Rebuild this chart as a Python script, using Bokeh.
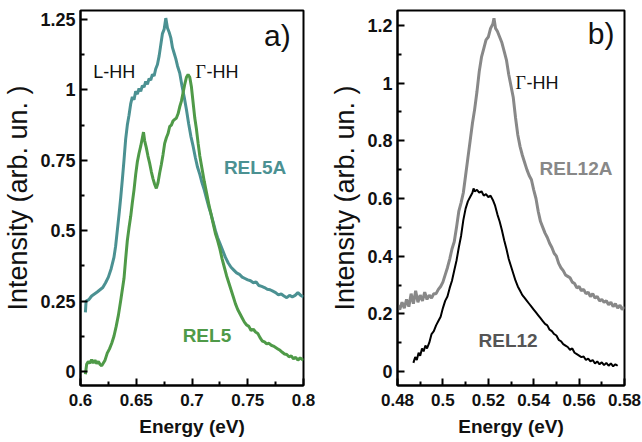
from bokeh.plotting import figure
from bokeh.layouts import row
from bokeh.models import FixedTicker, Range1d
from bokeh.core.properties import value
from bokeh.embed import file_html
from bokeh.resources import INLINE

# ---------------- data: panel a ----------------
rel5a_e = [0.6044, 0.6050, 0.6075, 0.6100, 0.6125, 0.6150, 0.6175, 0.6200, 0.6225, 0.6250,
           0.6275, 0.6300, 0.6315, 0.6330, 0.6345, 0.6360, 0.6375, 0.6390, 0.6405, 0.6420,
           0.6435, 0.6450, 0.6465, 0.6480, 0.6495, 0.6510, 0.6525, 0.6540, 0.6555, 0.6570,
           0.6585, 0.6600, 0.6615, 0.6630, 0.6645, 0.6660, 0.6675, 0.6690, 0.6705, 0.6720,
           0.6735, 0.6750, 0.6765, 0.6780, 0.6795, 0.6810, 0.6825, 0.6840, 0.6855, 0.6870,
           0.6890, 0.6910, 0.6930, 0.6950, 0.6970, 0.6990, 0.7010, 0.7030, 0.7050, 0.7070,
           0.7090, 0.7110, 0.7130, 0.7150, 0.7170, 0.7190, 0.7210, 0.7230, 0.7250, 0.7275,
           0.7300, 0.7325, 0.7350, 0.7375, 0.7400, 0.7425, 0.7450, 0.7475, 0.7500, 0.7525,
           0.7550, 0.7575, 0.7600, 0.7625, 0.7650, 0.7675, 0.7700, 0.7725, 0.7750, 0.7775,
           0.7800, 0.7825, 0.7850, 0.7875, 0.7900, 0.7925, 0.7950, 0.7975, 0.8000]
rel5a_i = [0.210, 0.250, 0.255, 0.268, 0.275, 0.282, 0.290, 0.298, 0.315, 0.335,
           0.365, 0.405, 0.445, 0.500, 0.555, 0.615, 0.680, 0.750, 0.825, 0.875,
           0.910, 0.950, 0.975, 0.965, 0.995, 0.985, 1.005, 0.995, 1.015, 1.010,
           1.030, 1.020, 1.040, 1.035, 1.055, 1.050, 1.075, 1.090, 1.120, 1.160,
           1.200, 1.215, 1.255, 1.220, 1.205, 1.185, 1.150, 1.130, 1.110, 1.085,
           1.060, 1.015, 0.975, 0.930, 0.880, 0.835, 0.800, 0.760, 0.725, 0.700,
           0.670, 0.645, 0.615, 0.585, 0.560, 0.530, 0.500, 0.475, 0.455, 0.430,
           0.405, 0.385, 0.370, 0.360, 0.350, 0.345, 0.335, 0.330, 0.325, 0.322,
           0.315, 0.318, 0.305, 0.302, 0.298, 0.292, 0.290, 0.285, 0.280, 0.272,
           0.275, 0.268, 0.262, 0.270, 0.265, 0.270, 0.280, 0.270, 0.265]

rel5_e = [0.6044, 0.6055, 0.6070, 0.6085, 0.6100, 0.6115, 0.6130, 0.6145, 0.6160, 0.6175,
          0.6190, 0.6205, 0.6220, 0.6240, 0.6260, 0.6280, 0.6300, 0.6320, 0.6340, 0.6360,
          0.6375, 0.6390, 0.6405, 0.6420, 0.6435, 0.6450, 0.6465, 0.6480, 0.6495, 0.6510,
          0.6525, 0.6540, 0.6555, 0.6565, 0.6575, 0.6590, 0.6605, 0.6620, 0.6635, 0.6650,
          0.6665, 0.6680, 0.6695, 0.6710, 0.6725, 0.6740, 0.6755, 0.6770, 0.6785, 0.6800,
          0.6815, 0.6830, 0.6845, 0.6860, 0.6875, 0.6890, 0.6905, 0.6920, 0.6935, 0.6950,
          0.6965, 0.6980, 0.6995, 0.7010, 0.7025, 0.7040, 0.7055, 0.7070, 0.7090, 0.7110,
          0.7130, 0.7150, 0.7170, 0.7190, 0.7210, 0.7230, 0.7250, 0.7270, 0.7290, 0.7310,
          0.7330, 0.7350, 0.7370, 0.7390, 0.7410, 0.7430, 0.7450, 0.7470, 0.7490, 0.7510,
          0.7530, 0.7550, 0.7570, 0.7590, 0.7610, 0.7630, 0.7650, 0.7670, 0.7690, 0.7710,
          0.7730, 0.7750, 0.7770, 0.7790, 0.7810, 0.7830, 0.7850, 0.7870, 0.7890, 0.7910,
          0.7930, 0.7950, 0.7970, 0.8000]
rel5_i = [-0.010, 0.025, 0.035, 0.030, 0.042, 0.030, 0.040, 0.028, 0.035, 0.025,
          0.020, 0.030, 0.040, 0.065, 0.080, 0.100, 0.125, 0.160, 0.200, 0.250,
          0.290, 0.330, 0.400, 0.465, 0.510, 0.550, 0.600, 0.645, 0.700, 0.745,
          0.775, 0.800, 0.830, 0.850, 0.820, 0.795, 0.765, 0.740, 0.710, 0.685,
          0.665, 0.650, 0.670, 0.705, 0.735, 0.770, 0.810, 0.830, 0.845, 0.870,
          0.875, 0.890, 0.895, 0.900, 0.915, 0.940, 0.960, 0.990, 1.020, 1.045,
          1.055, 1.045, 1.010, 0.955, 0.900, 0.860, 0.810, 0.765, 0.720, 0.675,
          0.635, 0.595, 0.560, 0.525, 0.490, 0.465, 0.435, 0.400, 0.370, 0.340,
          0.315, 0.290, 0.265, 0.240, 0.220, 0.205, 0.190, 0.175, 0.165, 0.160,
          0.145, 0.150, 0.140, 0.135, 0.120, 0.108, 0.105, 0.098, 0.100, 0.093,
          0.090, 0.085, 0.080, 0.075, 0.068, 0.062, 0.060, 0.052, 0.055, 0.045,
          0.050, 0.040, 0.048, 0.040]

# ---------------- data: panel b ----------------
rel12a_e = [0.4800, 0.4810, 0.4820, 0.4830, 0.4840, 0.4850, 0.4860, 0.4870, 0.4880, 0.4890,
            0.4900, 0.4910, 0.4920, 0.4930, 0.4940, 0.4950, 0.4960, 0.4970, 0.4980, 0.4990,
            0.5000, 0.5010, 0.5020, 0.5030, 0.5040, 0.5050, 0.5060, 0.5070, 0.5080, 0.5090,
            0.5100, 0.5110, 0.5120, 0.5130, 0.5140, 0.5150, 0.5160, 0.5170, 0.5180, 0.5190,
            0.5200, 0.5210, 0.5220, 0.5225, 0.5232, 0.5240, 0.5250, 0.5260, 0.5270, 0.5280,
            0.5290, 0.5300, 0.5310, 0.5320, 0.5330, 0.5340, 0.5350, 0.5360, 0.5370, 0.5380,
            0.5390, 0.5400, 0.5410, 0.5420, 0.5430, 0.5440, 0.5450, 0.5460, 0.5470, 0.5480,
            0.5490, 0.5500, 0.5510, 0.5520, 0.5530, 0.5540, 0.5550, 0.5560, 0.5570, 0.5580,
            0.5590, 0.5600, 0.5610, 0.5620, 0.5630, 0.5640, 0.5650, 0.5660, 0.5670, 0.5680,
            0.5690, 0.5700, 0.5710, 0.5720, 0.5730, 0.5740, 0.5750, 0.5760, 0.5770, 0.5780,
            0.5790, 0.5800]
rel12a_i = [0.230, 0.215, 0.240, 0.220, 0.250, 0.225, 0.270, 0.235, 0.280, 0.240,
            0.265, 0.245, 0.275, 0.250, 0.265, 0.255, 0.270, 0.270, 0.285, 0.295,
            0.310, 0.335, 0.360, 0.390, 0.425, 0.450, 0.500, 0.555, 0.585, 0.620,
            0.680, 0.740, 0.800, 0.860, 0.910, 0.970, 1.040, 1.090, 1.120, 1.150,
            1.160, 1.190, 1.205, 1.225, 1.190, 1.180, 1.160, 1.140, 1.110, 1.080,
            1.030, 0.990, 0.950, 0.880, 0.820, 0.780, 0.750, 0.725, 0.700, 0.680,
            0.665, 0.630, 0.600, 0.555, 0.520, 0.500, 0.480, 0.465, 0.445, 0.430,
            0.410, 0.400, 0.375, 0.360, 0.350, 0.335, 0.330, 0.325, 0.310, 0.305,
            0.290, 0.295, 0.280, 0.285, 0.270, 0.275, 0.260, 0.270, 0.255, 0.260,
            0.245, 0.250, 0.240, 0.245, 0.232, 0.240, 0.225, 0.235, 0.220, 0.230,
            0.215, 0.225]

rel12_e = [0.4870, 0.4878, 0.4885, 0.4893, 0.4900, 0.4908, 0.4915, 0.4923, 0.4930, 0.4940,
           0.4950, 0.4960, 0.4970, 0.4980, 0.4990, 0.5000, 0.5010, 0.5020, 0.5030, 0.5040,
           0.5050, 0.5060, 0.5070, 0.5080, 0.5090, 0.5100, 0.5110, 0.5120, 0.5130, 0.5135,
           0.5140, 0.5150, 0.5160, 0.5170, 0.5180, 0.5190, 0.5200, 0.5210, 0.5220, 0.5230,
           0.5240, 0.5250, 0.5260, 0.5270, 0.5280, 0.5290, 0.5300, 0.5310, 0.5320, 0.5330,
           0.5340, 0.5350, 0.5360, 0.5370, 0.5380, 0.5390, 0.5400, 0.5410, 0.5420, 0.5430,
           0.5440, 0.5450, 0.5460, 0.5470, 0.5480, 0.5490, 0.5500, 0.5510, 0.5520, 0.5530,
           0.5540, 0.5550, 0.5560, 0.5570, 0.5580, 0.5590, 0.5600, 0.5610, 0.5620, 0.5630,
           0.5640, 0.5650, 0.5660, 0.5670, 0.5680, 0.5690, 0.5700, 0.5710, 0.5720, 0.5730,
           0.5740, 0.5750, 0.5760, 0.5770]
rel12_i = [0.030, 0.050, 0.040, 0.065, 0.055, 0.080, 0.070, 0.090, 0.080, 0.100,
           0.130, 0.140, 0.160, 0.175, 0.190, 0.220, 0.245, 0.260, 0.290, 0.315,
           0.350, 0.385, 0.430, 0.470, 0.525, 0.565, 0.590, 0.605, 0.620, 0.635,
           0.625, 0.630, 0.620, 0.625, 0.610, 0.615, 0.605, 0.610, 0.595, 0.575,
           0.545, 0.520, 0.490, 0.455, 0.425, 0.390, 0.365, 0.340, 0.315, 0.295,
           0.280, 0.265, 0.255, 0.245, 0.235, 0.225, 0.215, 0.205, 0.195, 0.185,
           0.175, 0.165, 0.160, 0.145, 0.140, 0.130, 0.125, 0.110, 0.105, 0.095,
           0.090, 0.085, 0.075, 0.080, 0.065, 0.060, 0.055, 0.050, 0.052, 0.040,
           0.045, 0.035, 0.040, 0.028, 0.035, 0.025, 0.032, 0.022, 0.030, 0.020,
           0.028, 0.018, 0.025, 0.020]

# ---------------- ticks ----------------
a_xticks = [0.60, 0.65, 0.70, 0.75, 0.80]
a_xlabels = ["0.60", "0.65", "0.70", "0.75", "0.80"]
a_yticks = [0.0, 0.25, 0.5, 0.75, 1.0, 1.25]
a_ylabels = ["0.0", "0.2", "0.5", "0.7", "1.0", "1.2"]
b_xticks = [0.48, 0.50, 0.52, 0.54, 0.56, 0.58]
b_xlabels = ["0.48", "0.50", "0.52", "0.54", "0.56", "0.58"]
b_yticks = [0.0, 0.2, 0.4, 0.6, 0.8, 1.0, 1.2]
b_ylabels = ["0.0", "0.2", "0.4", "0.6", "0.8", "1.0", "1.2"]

FONT = "Liberation Sans"
TEAL = "#4b9192"
GREEN = "#4f9a48"


def mids(t):
    return [(t[i] + t[i + 1]) / 2 for i in range(len(t) - 1)]


def make_fig(xr, yr, xt, xl, yt, yl):
    p = figure(width=321, height=442, x_range=Range1d(*xr), y_range=Range1d(*yr),
               output_backend="svg", toolbar_location=None,
               min_border_left=76, min_border_right=18, min_border_top=10, min_border_bottom=57)
    p.xgrid.grid_line_color = None
    p.ygrid.grid_line_color = None
    p.outline_line_color = "black"
    p.outline_line_width = 2
    p.outline_line_alpha = 1
    p.xaxis.ticker = FixedTicker(ticks=xt, minor_ticks=mids(xt))
    p.yaxis.ticker = FixedTicker(ticks=yt, minor_ticks=mids(yt))
    p.xaxis.major_label_overrides = {str(t): s for t, s in zip(xt, xl)}
    p.yaxis.major_label_overrides = {str(t): s for t, s in zip(yt, yl)}
    for ax in (p.xaxis[0], p.yaxis[0]):
        ax.axis_line_width = 2
        ax.axis_line_color = "black"
        ax.major_tick_in = 7
        ax.major_tick_out = 0
        ax.minor_tick_in = 4
        ax.minor_tick_out = 0
        ax.major_tick_line_color = "black"
        ax.minor_tick_line_color = "black"
        ax.major_tick_line_width = 2
        ax.minor_tick_line_width = 2
        ax.major_label_text_font = FONT
        ax.major_label_text_font_style = "bold"
        ax.major_label_text_color = "#111111"
        ax.axis_label_text_font = FONT
        ax.axis_label_text_color = "#111111"
    p.xaxis.major_label_text_font_size = "17px"
    p.yaxis.major_label_text_font_size = "18px"
    p.xaxis.axis_label = "Energy (eV)"
    p.xaxis.axis_label_text_font_style = "bold"
    p.xaxis.axis_label_text_font_size = "19px"
    p.xaxis.major_label_standoff = 8
    p.xaxis.axis_label_standoff = 7
    p.yaxis.axis_label = "Intensity (arb. un. )"
    p.yaxis.axis_label_text_font_style = "normal"
    p.yaxis.axis_label_text_font_size = "27px"
    p.yaxis.major_label_standoff = 5
    p.yaxis.axis_label_standoff = 4
    return p


def lab(p, x, y, text, color="#111111", size="18px", style="normal", align="left", font=FONT, xoff=0):
    p.text(x=[x], y=[y], text=[text], text_color=color, text_font_size=value(size),
           text_font_style=style, text_align=align, text_baseline="middle",
           text_font=value(font), x_offset=xoff)


# panel a
pa = make_fig((0.60, 0.80), (-0.05, 1.282), a_xticks, a_xlabels, a_yticks, a_ylabels)
pa.line(rel5a_e, rel5a_i, line_color=TEAL, line_width=3)
pa.line(rel5_e, rel5_i, line_color=GREEN, line_width=3)
lab(pa, 0.7885, 1.193, "a)", size="30px", align="right")
lab(pa, 0.6115, 1.062, "L-HH")
lab(pa, 0.7031, 1.062, "\u0393", font="Liberation Serif")
lab(pa, 0.7031, 1.062, "-HH", xoff=11)
lab(pa, 0.7286, 0.724, "REL5A", color=TEAL, size="19px", style="bold")
lab(pa, 0.6916, 0.128, "REL5", color=GREEN, size="19px", style="bold")

# panel b
pb = make_fig((0.48, 0.58), (-0.0485, 1.252), b_xticks, b_xlabels, b_yticks, b_ylabels)
pb.line(rel12a_e, rel12a_i, line_color="#888888", line_width=3)
pb.line(rel12_e, rel12_i, line_color="black", line_width=2)
lab(pb, 0.5756, 1.172, "b)", size="30px", align="right")
lab(pb, 0.532, 1.002, "\u0393", font="Liberation Serif")
lab(pb, 0.532, 1.002, "-HH", xoff=11)
lab(pb, 0.5426, 0.704, "REL12A", color="#888888", size="19px", style="bold")
lab(pb, 0.5157, 0.108, "REL12", color="#555555", size="19px", style="bold")

layout = row(pa, pb)
open("out.html", "w").write(file_html(layout, INLINE))
